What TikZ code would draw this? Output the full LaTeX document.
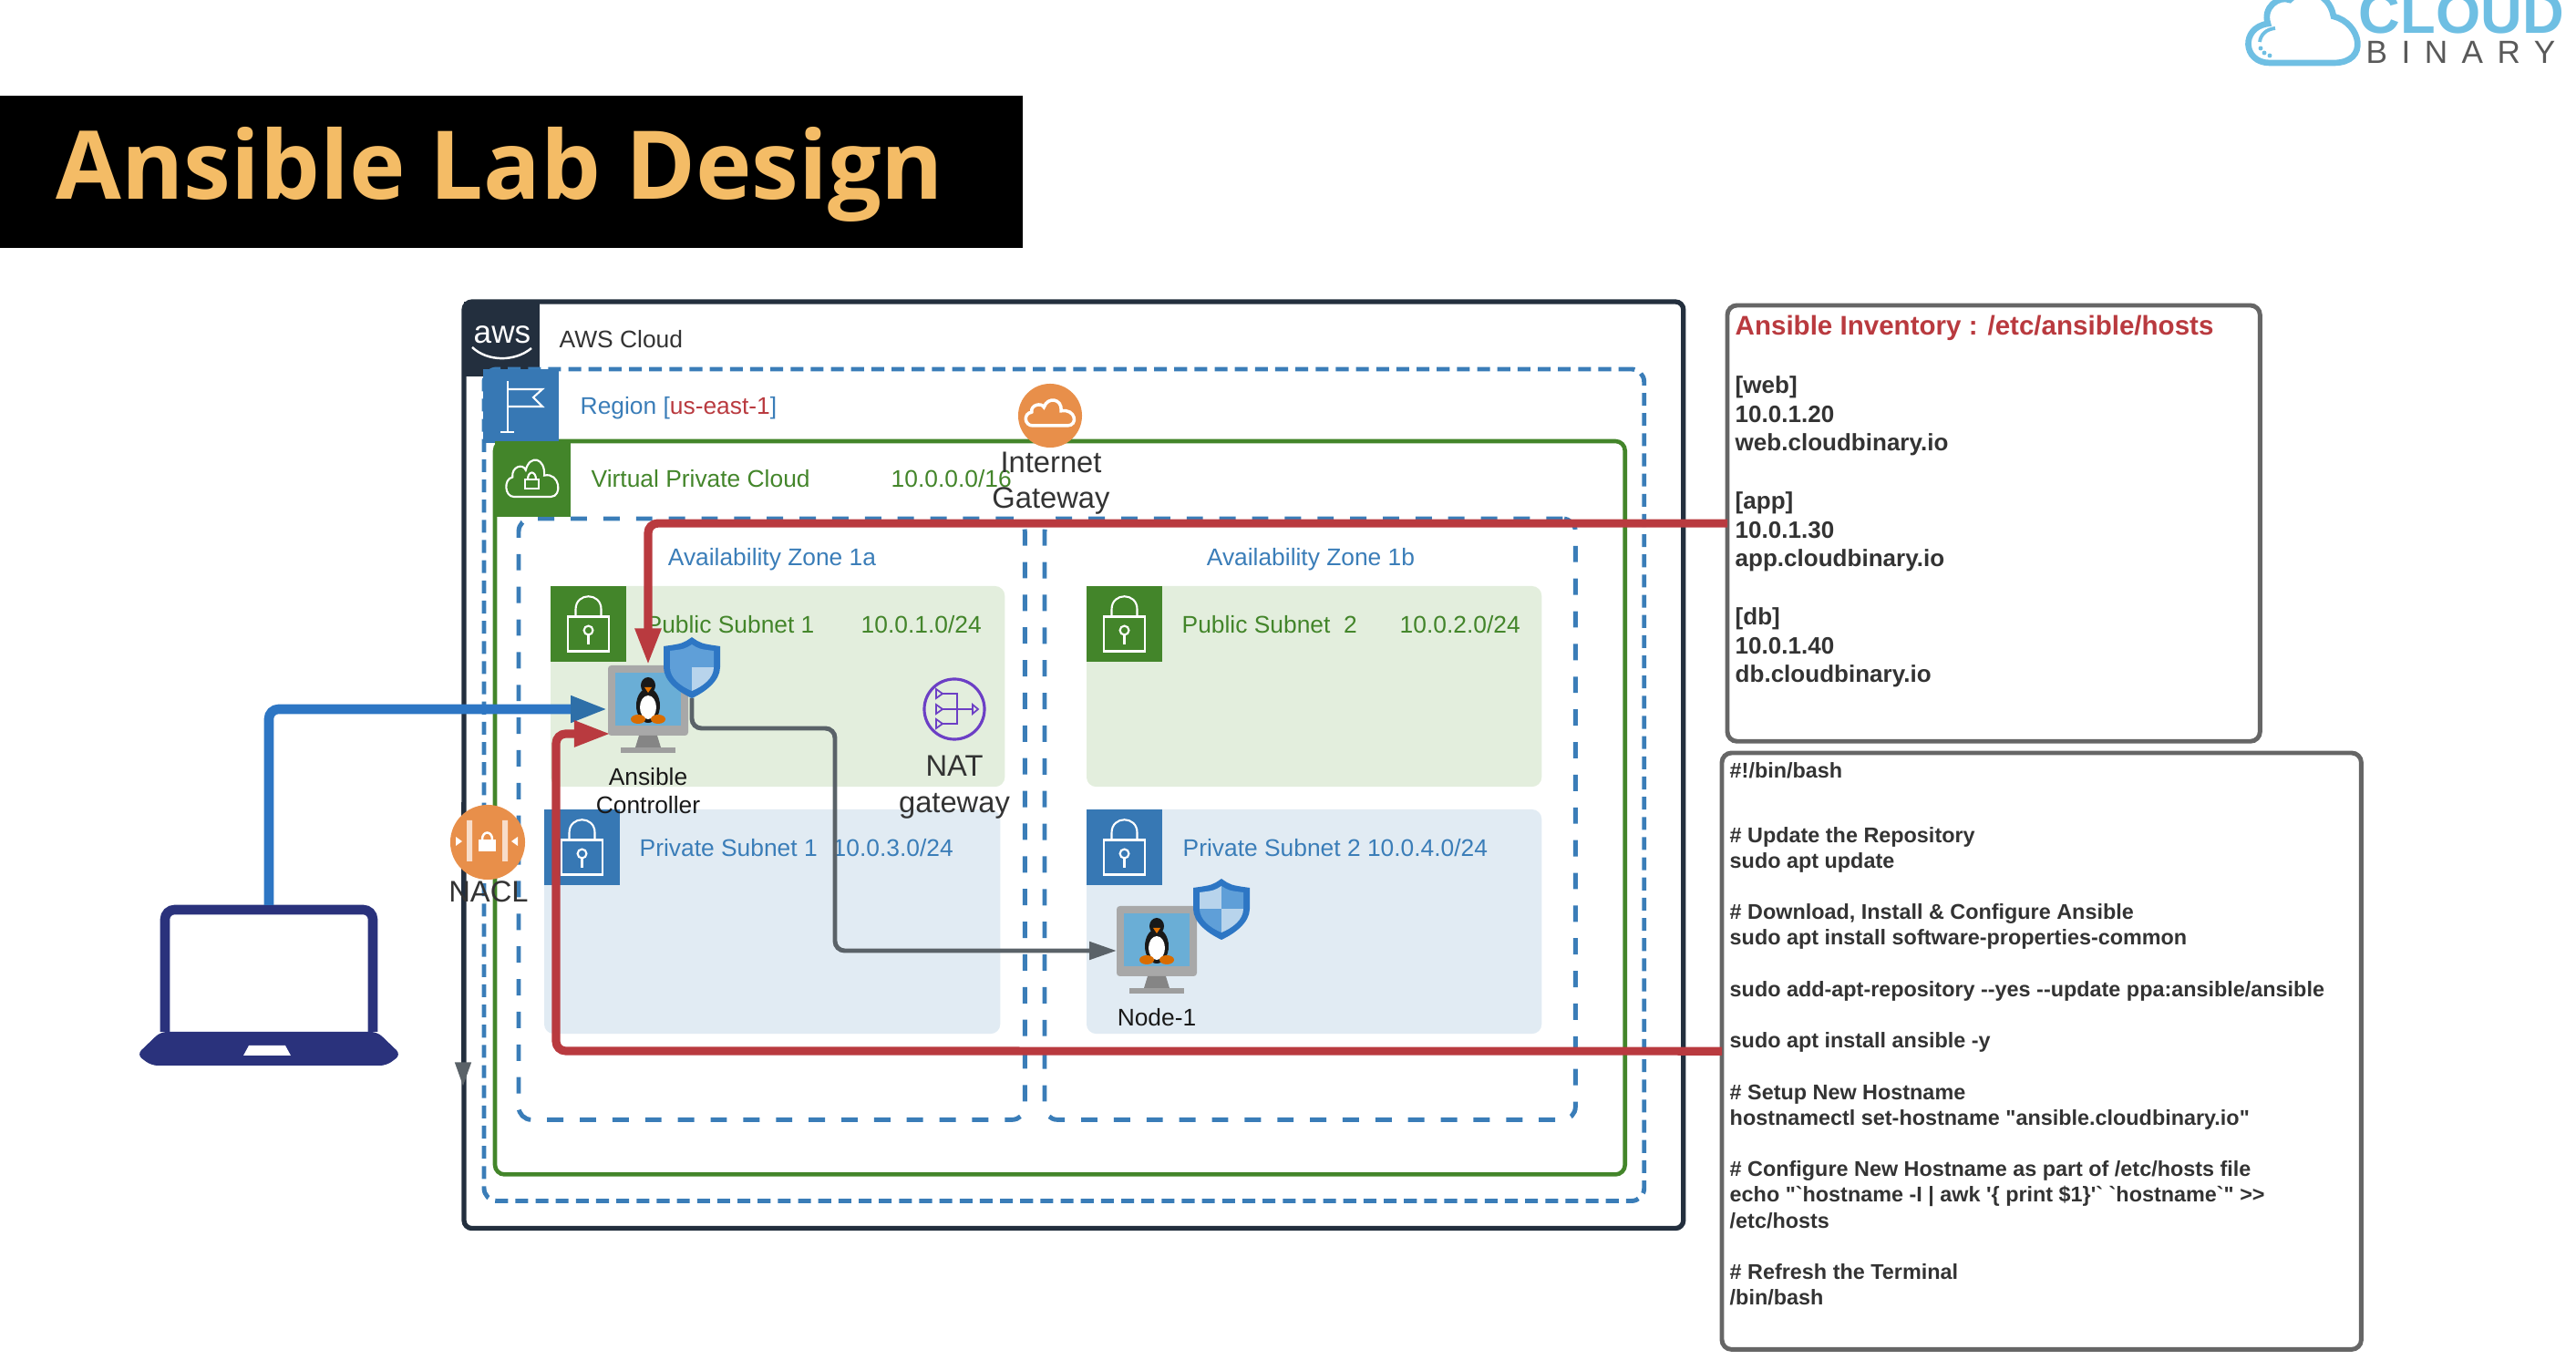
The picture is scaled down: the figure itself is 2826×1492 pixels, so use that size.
\documentclass[tikz,border=0pt]{standalone}
\usepackage{fontspec}
\setmainfont{Liberation Sans}
\newfontfamily\codefont{Liberation Sans}
\newfontfamily\titlefont{Open Sans}
\newfontfamily\spacedfont[LetterSpace=44]{Liberation Sans}
\usetikzlibrary{arrows.meta, positioning, calc}

\definecolor{awsdark}{HTML}{232F3E}
\definecolor{regionblue}{HTML}{3A7DB8}
\definecolor{iconblue}{HTML}{3778B4}
\definecolor{vpcgreen}{HTML}{43852A}
\definecolor{pubfill}{HTML}{E3EEDD}
\definecolor{privfill}{HTML}{E1EBF3}
\definecolor{linkred}{HTML}{B93A3F}
\definecolor{linkblue}{HTML}{2D76C4}
\definecolor{tipblue}{HTML}{2E6FA8}
\definecolor{linkgray}{HTML}{5A6268}
\definecolor{badge}{HTML}{E88F4A}
\definecolor{natpurple}{HTML}{6C3FC5}
\definecolor{lapblue}{HTML}{2A327C}
\definecolor{titleorange}{HTML}{F4BC66}
\definecolor{logoblue}{HTML}{6FBFE3}
\definecolor{boxgray}{HTML}{666666}
\definecolor{inktext}{HTML}{333333}
\definecolor{shieldmid}{HTML}{5F9FD8}
\definecolor{shieldpale}{HTML}{B8D4EC}
\definecolor{pcscreen}{HTML}{6AAED6}

\tikzset{
  anybox/.style={anchor=north west, inner sep=0pt, outer sep=0pt},
  awsbox/.style={anybox, draw=awsdark, line width=1.5pt, rounded corners=2.5pt},
  regionbox/.style={anybox, draw=regionblue, line width=1.4pt, rounded corners=4pt, dash pattern=on 4pt off 2.3pt},
  vpcbox/.style={anybox, draw=vpcgreen, line width=1.3pt, rounded corners=3pt},
  zonebox/.style={anybox, draw=regionblue, line width=1.4pt, rounded corners=4pt, dash pattern=on 5.1pt off 5.1pt},
  pubbox/.style={anybox, fill=pubfill, rounded corners=3pt},
  privbox/.style={anybox, fill=privfill, rounded corners=3pt},
  squarebox/.style={anybox, minimum width=0.83cm, minimum height=0.83cm},
  textbox/.style={anybox, draw=boxgray, line width=1.4pt, rounded corners=3pt},
  lbl/.style={anchor=base west, inner sep=0pt, font=\fontsize{7.5}{9}\selectfont},
  midlbl/.style={lbl, anchor=base, text=inktext},
  biglbl/.style={midlbl, font=\fontsize{9.3}{11}\selectfont},
  pcbox/.style={inner sep=0pt, outer sep=0pt, minimum width=0.88cm, minimum height=0.77cm},
  shieldbox/.style={inner sep=0pt, outer sep=0pt, minimum width=0.62cm, minimum height=0.67cm},
  redlink/.style={draw=linkred, line width=2.6pt, rounded corners=3pt, -{Triangle[length=11.4pt,width=7.6pt,color=linkred]}},
  bluelink/.style={draw=linkblue, line width=3pt, rounded corners=3pt, -{Triangle[length=11.6pt,width=7.6pt,color=tipblue]}},
  graylink/.style={draw=linkgray, line width=1.4pt, rounded corners=3pt, -{Triangle[length=8.5pt,width=5.4pt,color=linkgray]}},
  darklink/.style={draw=awsdark, line width=1.4pt, -{Triangle[length=7.6pt,width=4.8pt,color=linkgray]}},
  pics/lockicon/.style={code={
    \draw[white, line width=0.6pt] (-22.5,-8) rectangle (22.5,30);
    \draw[white, line width=0.6pt] (-14,-8) -- (-14,-16) .. controls (-14,-35) and (14,-35) .. (14,-16) -- (14,-8);
    \draw[white, line width=0.6pt] (0,7) circle (1.4pt);
    \draw[white, line width=0.6pt] (0,12) -- (0,22);
  }},
  pics/cloudicon/.style={code={
    \draw[white, line width=#1] (-0.7,0) .. controls (-1.05,0) and (-1.1,-0.5) .. (-0.75,-0.55)
      .. controls (-0.8,-0.85) and (-0.35,-0.95) .. (-0.25,-0.75)
      .. controls (-0.1,-1.2) and (0.5,-1.1) .. (0.45,-0.6)
      .. controls (1.05,-0.7) and (1.15,0) .. (0.7,0) -- cycle;
  }},
  pics/pcicon/.style={code={
    \fill[black!34, rounded corners=1pt] (-44,-38) rectangle (44,39);
    \fill[black!48] (-10,39) -- (10,39) -- (14,52) -- (-14,52) -- cycle;
    \fill[black!38] (-30,52) rectangle (30,58);
    \fill[pcscreen] (-36,-30) rectangle (36,28);
    \fill[black!90] (0,-16) circle[x radius=8, y radius=9];
    \fill[black!90] (0,6) circle[x radius=13, y radius=19];
    \fill[white] (0,8) circle[x radius=9, y radius=13];
    \fill[orange!90!black] (-4,-14) -- (4,-14) -- (0,-8) -- cycle;
    \fill[orange!85!black] (-11,21) circle[x radius=8, y radius=5];
    \fill[orange!85!black] (11,21) circle[x radius=8, y radius=5];
  }},
  pics/shieldicon/.style={code={
    \fill[linkblue] (0,-33) .. controls (-10,-26) .. (-31,-23) -- (-31,0) .. controls (-31,15) and (-15,27) .. (0,34)
      .. controls (15,27) and (31,15) .. (31,0) -- (31,-23) .. controls (10,-26) .. cycle;
    \begin{scope}
      \clip (0,-25) .. controls (-8,-20) .. (-24,-18) -- (-24,0) .. controls (-24,12) and (-12,21) .. (0,26)
        .. controls (12,21) and (24,12) .. (24,0) -- (24,-18) .. controls (8,-20) .. cycle;
      \fill[#1] (-31,-33) rectangle (0,0);
      \fill[shieldmid] (0,-33) rectangle (31,0);
      \fill[shieldmid] (-31,0) rectangle (0,34);
      \fill[shieldpale] (0,0) rectangle (31,34);
    \end{scope}
  }},
}

\begin{document}
\begin{tikzpicture}[x=0.01cm,y=-0.01cm]
\useasboundingbox (0,0) rectangle (2826,1492);

% title and logo
\node[anybox, fill=black, minimum width=11.21cm, minimum height=1.67cm] (titlebar) at (0,105) {};
\node[anchor=base west, inner sep=0pt, text=titleorange, font=\titlefont\fontsize{29.6}{34}\selectfont\bfseries] (title) at (61,219) {Ansible Lab Design};

\begin{scope}
\clip (2440,0) rectangle (2826,100);
\draw[logoblue, line width=1.9pt] (2490,69) .. controls (2460,69) and (2458,30) .. (2488,26)
  .. controls (2482,8) and (2500,-5) .. (2512,0) .. controls (2525,-15) and (2555,-10) .. (2560,18)
  .. controls (2590,25) and (2600,69) .. (2560,69) -- cycle;
\draw[logoblue, line width=1.1pt] (2479,46) .. controls (2480,38) and (2486,32) .. (2496,31);
\foreach \dotx/\doty in {2480/53, 2484/58, 2490/61}
  \fill[logoblue] (\dotx,\doty) circle (0.7pt);
\node[anchor=base west, inner sep=0pt, text=logoblue, font=\fontsize{18}{20}\selectfont\bfseries] (logotop) at (2587,37) {CLOUD};
\node[anchor=base west, inner sep=0pt, text=black!65, font=\spacedfont\fontsize{10}{12}\selectfont] (logobottom) at (2595,70) {BINARY};
\end{scope}

% containers
\node[awsbox, minimum width=13.37cm, minimum height=10.16cm] (aws) at (509,331) {};
\node[squarebox, fill=awsdark, minimum height=0.82cm] (awsicon) at (509,331) {};
\node[regionbox, minimum width=12.72cm, minimum height=9.12cm] (region) at (531,405) {};
\node[vpcbox, minimum width=12.39cm, minimum height=8.04cm] (vpc) at (543,484) {};
\node[zonebox, minimum width=5.55cm, minimum height=6.59cm] (zonea) at (569,569) {};
\node[zonebox, minimum width=5.82cm, minimum height=6.59cm] (zoneb) at (1146,569) {};

\node[pubbox, minimum width=4.98cm, minimum height=2.20cm] (puba) at (604,643) {};
\node[pubbox, minimum width=4.99cm, minimum height=2.20cm] (pubb) at (1192,643) {};
\node[privbox, minimum width=5.00cm, minimum height=2.46cm] (priva) at (597,888) {};
\node[privbox, minimum width=4.99cm, minimum height=2.46cm] (privb) at (1192,888) {};

% corner icons
\node[anchor=base, inner sep=0pt, text=white, font=\fontsize{10}{12}\selectfont] (awsword) at (551,377) {aws};
\draw[white, line width=0.7pt] (518,381) .. controls (535,397) and (565,397) .. (583,382);

\node[squarebox, fill=iconblue, minimum height=0.81cm] (regionicon) at (530,405) {};
\draw[white, line width=0.6pt] (557,418) -- (557,474) (549,474) -- (564,474);
\draw[white, line width=0.6pt] (557,427) -- (595,427) -- (585,436) -- (595,446) -- (557,446);

\node[squarebox, fill=vpcgreen] (vpcicon) at (543,484) {};
\pic[xscale=29, yscale=39] at (584,545) {cloudicon=0.6pt};
\draw[white, line width=0.6pt] (576,526) rectangle (591,536);
\draw[white, line width=0.6pt] (579,526) .. controls (579,516) and (588,516) .. (588,526);

\node[squarebox, fill=vpcgreen] (lockpuba) at (604,643) {};
\pic at (lockpuba) {lockicon};
\node[squarebox, fill=vpcgreen] (lockpubb) at (1192,643) {};
\pic at (lockpubb) {lockicon};
\node[squarebox, fill=iconblue] (lockpriva) at (597,888) {};
\pic at (lockpriva) {lockicon};
\node[squarebox, fill=iconblue] (lockprivb) at (1192,888) {};
\pic at (lockprivb) {lockicon};

% labels
\node[lbl, text=inktext] (awslbl) at (613,382) {AWS Cloud};
\node[lbl, text=regionblue] (regionlbl) at (636,455) {Region [\textcolor{linkred}{us-east-1}]};
\node[lbl, text=vpcgreen] (vpclbl) at (648,535) {Virtual Private Cloud};
\node[lbl, text=vpcgreen] (vpccidr) at (977,535) {10.0.0.0/16};
\node[lbl, anchor=base, text=regionblue] (zonealbl) at (847,621) {Availability Zone 1a};
\node[lbl, anchor=base, text=regionblue] (zoneblbl) at (1438,621) {Availability Zone 1b};
\node[lbl, text=vpcgreen] (pubalbl) at (708,695) {Public Subnet 1};
\node[lbl, text=vpcgreen] (pubacidr) at (944,695) {10.0.1.0/24};
\node[lbl, text=vpcgreen] (pubblbl) at (1296,695) {Public Subnet\ \ 2};
\node[lbl, text=vpcgreen] (pubbcidr) at (1535,695) {10.0.2.0/24};
\node[lbl, text=regionblue] (privalbl) at (701,940) {Private Subnet 1};
\node[lbl, text=regionblue] (privacidr) at (913,940) {10.0.3.0/24};
\node[lbl, text=regionblue] (privblbl) at (1297,940) {Private Subnet 2 10.0.4.0/24};

% round badges
\node[circle, fill=badge, minimum size=0.70cm, inner sep=0pt] (igw) at (1152,456) {};
\pic[scale=27] at (1152,467) {cloudicon=1pt};
\node[biglbl] (igwtop) at (1153,519) {Internet};
\node[biglbl] (igwbot) at (1153,558) {Gateway};

\node[circle, draw=natpurple, line width=0.9pt, minimum size=0.66cm, inner sep=0pt] (nat) at (1047,778) {};
\foreach \naty in {761,778,794}
  \draw[natpurple, line width=0.5pt] (1027,\naty-5) -- (1034,\naty) -- (1027,\naty+5) -- cycle;
\draw[natpurple, line width=0.6pt] (1034,761) -- (1050,761) -- (1050,794) -- (1034,794) (1034,778) -- (1067,778);
\draw[natpurple, line width=0.5pt] (1067,773) -- (1073,778) -- (1067,783) -- cycle;
\node[biglbl] (nattop) at (1047,852) {NAT};
\node[biglbl] (natbot) at (1047,892) {gateway};

% text panels
\node[textbox, minimum width=5.84cm, minimum height=4.78cm] (inventory) at (1895,335) {};
\node[anchor=north west, inner sep=0pt, align=left, text=inktext, font=\fontsize{7.4}{9.02}\selectfont\bfseries] (inventorytxt) at (1903,412) {{[web]}\\10.0.1.20\\web.cloudbinary.io\\[9.02pt]
{[app]}\\10.0.1.30\\app.cloudbinary.io\\[9.02pt]
{[db]}\\10.0.1.40\\db.cloudbinary.io};
\node[lbl, text=linkred, font=\fontsize{8.4}{10}\selectfont\bfseries] (inventoryttl) at (1903,368) {Ansible Inventory : /etc/ansible/hosts};

\node[textbox, minimum width=7.01cm, minimum height=6.54cm] (script) at (1889,826) {};
\node[anchor=north west, inner sep=0pt, align=left, text=inktext, font=\codefont\fontsize{6.65}{8.02}\selectfont\bfseries] (scripttxt) at (1897,836) {\#!/bin/bash\\[12pt]
\# Update the Repository\\sudo apt update\\[8.02pt]
\# Download, Install \& Configure Ansible\\sudo apt install software-properties-common\\[8.02pt]
sudo add-apt-repository --yes --update ppa:ansible/ansible\\[8.02pt]
sudo apt install ansible -y\\[8.02pt]
\# Setup New Hostname\\hostnamectl set-hostname "ansible.cloudbinary.io"\\[8.02pt]
\# Configure New Hostname as part of /etc/hosts file\\echo "`hostname -I | awk '\{ print \$1\}'` `hostname`" >>\\/etc/hosts\\[8.02pt]
\# Refresh the Terminal\\/bin/bash};

% laptop
\node[inner sep=0pt, outer sep=0pt, minimum width=2.38cm, minimum height=1.76cm] (laptop) at (295,1081) {};
\draw[lapblue, line width=3pt, rounded corners=3pt] (181,1132) -- (181,998) -- (409,998) -- (409,1132);
\fill[lapblue, rounded corners=2pt] (176,1132) -- (414,1132) -- (440,1157) -- (424,1169) -- (166,1169) -- (150,1157) -- cycle;
\fill[white] (273,1147) -- (313,1147) -- (319,1158) -- (267,1158) -- cycle;

% machines
\node[pcbox] (ctrl) at (711,768) {};
\node[pcbox] (nodeone) at (1269,1032) {};
\node[shieldbox] (ctrlshield) at (759,732) {};
\node[shieldbox] (nodeshield) at (1340,997) {};
\coordinate (ctrlin) at (667,778);
\coordinate (ctrlbase) at (670,805);
\coordinate (redcorner) at (610,1153);
\coordinate (graybend) at (916,799);
\coordinate (nodein) at (1225,1043);
\coordinate (aclfrom) at (508,880);
\coordinate (aclto) at (508,1192);

\pic at (ctrl) {pcicon};
\pic at (nodeone) {pcicon};

% links
\draw[darklink] (aclfrom) -- (aclto);
\draw[graylink] (ctrlshield.south) |- (graybend) |- (nodein);
\draw[bluelink] (laptop.north) |- (ctrlin);
\draw[redlink] (inventory.west) -| (ctrl.north);
\draw[redlink] (script.west) -- (redcorner) |- (ctrlbase);

\pic at (ctrlshield) {shieldicon=shieldmid};
\pic at (nodeshield) {shieldicon=shieldpale};

\node[midlbl, text=black!90] (ctrltop) at (711,862) {Ansible};
\node[midlbl, text=black!90] (ctrlbot) at (711,893) {Controller};
\node[midlbl, text=black!90] (nodelbl) at (1269,1126) {Node-1};

% nacl badge
\node[circle, fill=badge, minimum size=0.82cm, inner sep=0pt] (nacl) at (535,924) {};
\fill[white!70!badge] (512,900) rectangle (518,945) (551,900) rectangle (557,945);
\fill[white] (525,921) rectangle (544,934);
\draw[white, line width=0.7pt] (529,921) .. controls (529,911) and (540,911) .. (540,921);
\fill[white] (500,918) -- (507,923) -- (500,928) -- cycle (568,918) -- (561,923) -- (568,928) -- cycle;
\node[biglbl] (nacllbl) at (536,990) {NACL};

\end{tikzpicture}
\end{document}
